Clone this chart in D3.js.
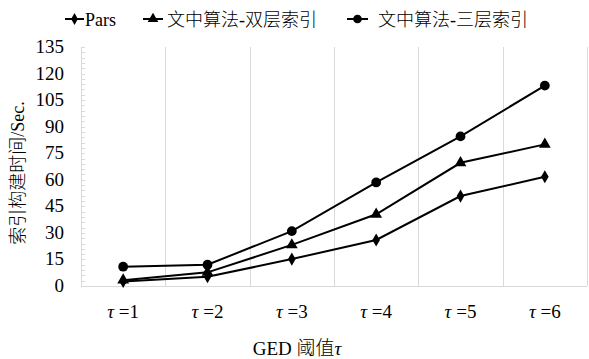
<!DOCTYPE html>
<html><head><meta charset="utf-8">
<script src="https://cdn.jsdelivr.net/npm/d3@7"></script>
<style>
body{margin:0;background:#fff}svg{display:block}
.serif{font-family:"Liberation Serif","Times New Roman",serif}
.cjk{font-family:"Liberation Serif","Noto Sans CJK SC",serif;font-weight:300}
</style>
</head><body>
<script>
const categories = ["1","2","3","4","5","6"];
const seriesNames = ["Pars","文中算法-双层索引","文中算法-三层索引"];
const pars = [2.6, 5.2, 15.2, 26, 50.8, 61.7];
const twoLayer = [3.3, 7.7, 23.2, 40.5, 69.6, 80];
const threeLayer = [10.9, 12, 31, 58.5, 84.5, 113.2];
const yTicks = [0,15,30,45,60,75,90,105,120,135];
const markers = ["diamond","triangle","circle"];
const series = [pars, twoLayer, threeLayer];

const W=589,H=359;
const svg=d3.select("body").append("svg").attr("width",W).attr("height",H);
const x=d3.scaleBand().domain(categories).range([81,587]);
const y=d3.scaleLinear().domain([0,135]).range([286,47]);

const bounds = categories.map(c=>x(c)).concat([x.range()[1]]);
svg.append("g").selectAll("line").data(bounds.slice(1)).join("line")
  .attr("x1",d=>Math.round(d)+0.5).attr("x2",d=>Math.round(d)+0.5).attr("y1",47).attr("y2",286)
  .attr("stroke","#d9d9d9").attr("stroke-width",1);
svg.append("g").selectAll("line").data(d3.range(0,136,3)).join("line")
  .attr("x1",81).attr("x2",85).attr("y1",d=>Math.round(y(d))+0.5).attr("y2",d=>Math.round(y(d))+0.5)
  .attr("stroke","#d9d9d9");
svg.append("line").attr("x1",81.5).attr("x2",81.5).attr("y1",47).attr("y2",286).attr("stroke","#d9d9d9");
svg.append("line").attr("x1",81).attr("x2",587).attr("y1",286.5).attr("y2",286.5).attr("stroke","#d9d9d9");

svg.append("g").selectAll("text").data(yTicks).join("text")
  .attr("class","serif")
  .attr("x",64).attr("y",d=>y(d)+6).attr("text-anchor","end")
  .attr("font-size",19).attr("fill","#000").text(d=>d);

const xl = svg.append("g").selectAll("text").data(categories).join("text")
  .attr("class","serif")
  .attr("x",d=>x(d)+x.bandwidth()/2).attr("y",318).attr("text-anchor","middle")
  .attr("font-size",19);
xl.append("tspan").attr("font-style","italic").text("τ");
xl.append("tspan").text(d=>" =" + d);

const xt = svg.append("text").attr("class","cjk").attr("x",297).attr("y",355).attr("text-anchor","middle")
  .attr("font-size",19);
xt.append("tspan").text("GED 阈值");
xt.append("tspan").attr("font-style","italic").text("τ");
svg.append("text").attr("class","cjk").attr("transform","translate(24,173) rotate(-90)").attr("text-anchor","middle")
  .attr("font-size",18).text("索引构建时间/Sec.");

function sym(type,size){
  const t = type==="diamond"?d3.symbolDiamond:type==="triangle"?d3.symbolTriangle:d3.symbolCircle;
  return d3.symbol().type(t).size(size)();
}
const cx = c=>x(c)+x.bandwidth()/2;
const line = d3.line().x((d,i)=>cx(categories[i])).y(d=>y(d));
series.forEach((s,k)=>{
  svg.append("path").datum(s).attr("d",line).attr("fill","none").attr("stroke","#000").attr("stroke-width",2);
  svg.append("g").selectAll("path").data(s).join("path")
    .attr("transform",(d,i)=>`translate(${cx(categories[i])},${y(d)})`)
    .attr("d",sym(markers[k], markers[k]==="circle"?75:markers[k]==="triangle"?60:50)).attr("fill","#000");
});

const leg = [{x1:65,x2:84,tx:85},{x1:143,x2:163,tx:167},{x1:347,x2:368,tx:378}];
leg.forEach((l,k)=>{
  svg.append("line").attr("x1",l.x1).attr("x2",l.x2).attr("y1",19).attr("y2",19).attr("stroke","#000").attr("stroke-width",2);
  svg.append("path").attr("transform",`translate(${(l.x1+l.x2)/2},19)`).attr("d",sym(markers[k], markers[k]==="circle"?60:markers[k]==="triangle"?50:40));
  svg.append("text").attr("class","cjk").attr("x",l.tx).attr("y",26).attr("font-size",18).text(seriesNames[k]);
});
</script>
</body></html>
